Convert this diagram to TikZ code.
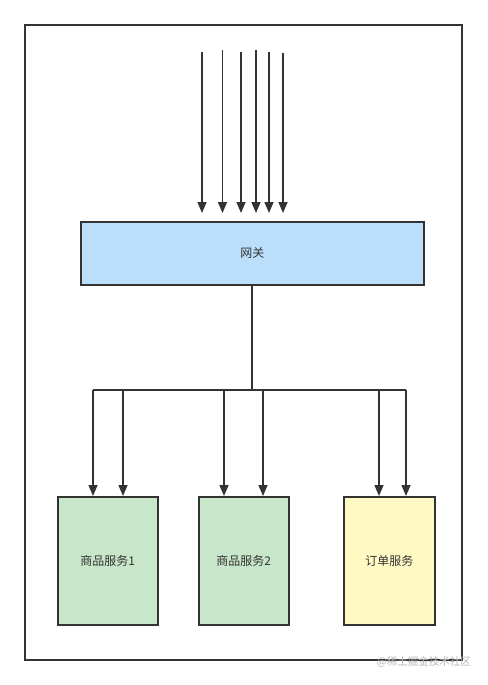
\documentclass[tikz,border=0pt]{standalone}
\usepackage{fontspec}
\newfontfamily\cjk{Noto Sans CJK SC}
\usetikzlibrary{arrows.meta}
\definecolor{linegray}{HTML}{333333}
\definecolor{gwblue}{HTML}{BBDEFB}
\definecolor{svgreen}{HTML}{C8E6C9}
\definecolor{svyellow}{HTML}{FFF9C4}
\definecolor{markgray}{HTML}{B4B4B4}

\begin{document}
\begin{tikzpicture}[x=1pt,y=-1pt]
    \tikzstyle{every node}+=[inner sep=0pt, font=\cjk\fontsize{12}{14}\selectfont, text=linegray]
    \tikzstyle{box}=[draw=linegray, line width=1.5pt, anchor=north west]
    \tikzstyle{arr}=[linegray, line width=1.5pt, -{Triangle[length=11pt,width=9pt]}]
    \useasboundingbox (0,0) rectangle (487,685);
    \draw [linegray, line width=2pt] (25,25) rectangle (462,660);
    \node [box, fill=gwblue, minimum width=343pt, minimum height=63pt] (gw) at (80,221) {网关};
    \node [box, fill=svgreen, minimum width=100pt, minimum height=128pt] (s1) at (57,496) {商品服务1};
    \node [box, fill=svgreen, minimum width=90pt, minimum height=128pt] (s2) at (198,496) {商品服务2};
    \node [box, fill=svyellow, minimum width=91pt, minimum height=128pt] (s3) at (343,496) {订单服务};
    \coordinate (t1) at (202,52);
    \coordinate (t2) at (222.5,50);
    \coordinate (t3) at (241,52);
    \coordinate (t4) at (256,50);
    \coordinate (t5) at (269,52);
    \coordinate (t6) at (283,53);
    \foreach \t in {t1,t2,t3,t4,t5,t6}
        \draw [arr, shorten >=8pt] (\t) -- (\t |- gw.north);
    \coordinate (bus) at (252,390);
    \coordinate (b1) at (93,390);
    \coordinate (b2) at (123,390);
    \coordinate (b3) at (224,390);
    \coordinate (b4) at (263,390);
    \coordinate (b5) at (379,390);
    \coordinate (b6) at (406,390);
    \draw [linegray, line width=1.5pt] (gw.south -| bus) -- (bus);
    \draw [linegray, line width=1.5pt] (b1) -- (b6);
    \draw [arr] (b1) -- (b1 |- s1.north);
    \draw [arr] (b2) -- (b2 |- s1.north);
    \draw [arr] (b3) -- (b3 |- s2.north);
    \draw [arr] (b4) -- (b4 |- s2.north);
    \draw [arr] (b5) -- (b5 |- s3.north);
    \draw [arr] (b6) -- (b6 |- s3.north);
    \node [font=\cjk\fontsize{10.5}{12}\selectfont, text=markgray, anchor=north east] (mark) at (471,656) {@稀土掘金技术社区};
\end{tikzpicture}
\end{document}
